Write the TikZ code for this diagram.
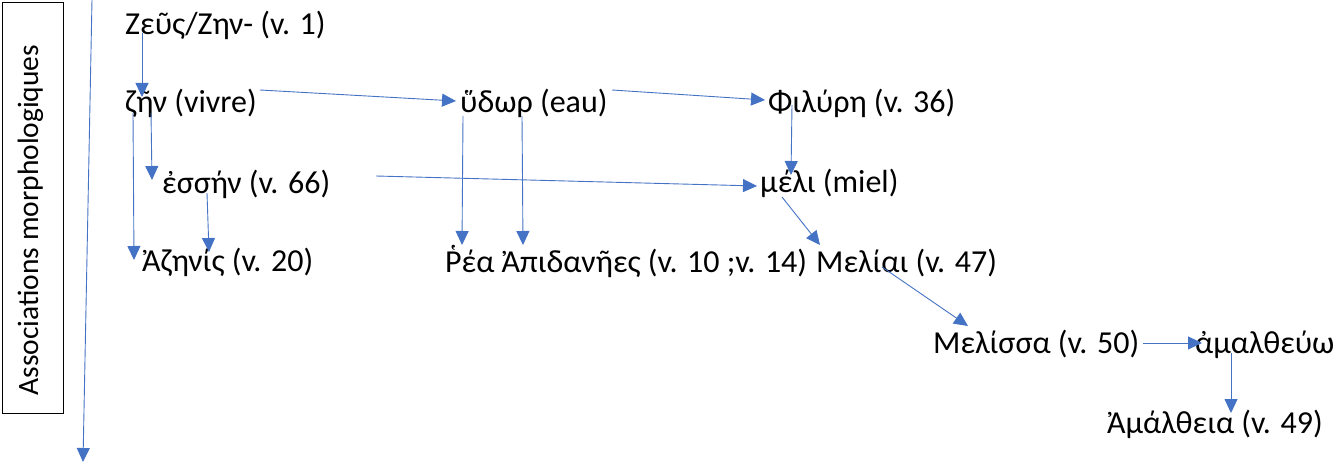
\documentclass[tikz,border=0pt]{standalone}
\usepackage{fontspec}
\setmainfont{Carlito}
\usetikzlibrary{arrows.meta}
\definecolor{ablue}{HTML}{4472C4}
\tikzset{
  word/.style={anchor=base west, inner sep=0pt, font=\fontsize{32}{36}\selectfont},
  arr/.style={draw=ablue, line width=0.9pt, -{Triangle[length=14pt,width=13pt]}},
  framebox/.style={draw=black, line width=1pt, inner sep=0pt}
}
\begin{document}
\begin{tikzpicture}[x=1pt,y=-1pt]
\useasboundingbox (0,0) rectangle (1336,462);
% side box
\node[framebox, minimum width=61pt, minimum height=410pt] (box) at (32.5,208) {};
\node[anchor=base, inner sep=0pt, rotate=90, font=\fontsize{29.5}{33}\selectfont] (boxlabel) at (38,220) {Associations morphologiques};
\coordinate (axtop) at (92,0);
\coordinate (axbot) at (83,462);
\draw[arr] (axtop) -- (axbot);
% words
\node[word] (zeus) at (125,35) {Ζεῦς/Ζην- (v. 1)};
\node[word] (zen) at (125,113) {ζῆν (vivre)};
\node[word] (hydor) at (460,113) {ὕδωρ (eau)};
\node[word] (philyre) at (768,113) {Φιλύρη (v. 36)};
\node[word] (essen) at (162,194) {ἐσσήν (v. 66)};
\node[word] (meli) at (760,193) {μέλι (miel)};
\node[word] (azenis) at (142,272) {Ἀζηνίς (v. 20)};
\node[word] (rhea) at (445,273) {Ῥέα Ἀπιδανῆες (v. 10 ;v. 14)};
\node[word] (meliai) at (816,273) {Μελίαι (v. 47)};
\node[word] (melissa) at (933,353) {Μελίσσα (v. 50)};
\node[word] (amaltheuo) at (1195,353) {ἀμαλθεύω};
\node[word] (amaltheia) at (1107,433) {Ἀμάλθεια (v. 49)};
% connectors
\draw[arr] ([shift={(17,-2)}]zeus.base west) -- ([shift={(17,-16)}]zen.base west);
\draw[arr] ([shift={(135,-23)}]zen.base west) -- ([shift={(-4,-12)}]hydor.base west);
\draw[arr] ([shift={(26,0)}]zen.base west) -- ([shift={(-10,-14)}]essen.base west);
\draw[arr] ([shift={(8,0)}]zen.base west) -- ([shift={(-8,-12)}]azenis.base west);
\draw[arr] ([shift={(45,-1)}]essen.base west) -- ([shift={(67,-20)}]azenis.base west);
\draw[arr] ([shift={(214,-18)}]essen.base west) -- ([shift={(-3,-7)}]meli.base west);
\draw[arr] ([shift={(152,-23)}]hydor.base west) -- ([shift={(-3,-13)}]philyre.base west);
\draw[arr] ([shift={(3,3)}]hydor.base west) -- ([shift={(17,-28)}]rhea.base west);
\draw[arr] ([shift={(62,3)}]hydor.base west) -- ([shift={(78,-28)}]rhea.base west);
\draw[arr] ([shift={(24,-8)}]philyre.base west) -- ([shift={(31,-18)}]meli.base west);
\draw[arr] ([shift={(22,4)}]meli.base west) -- ([shift={(4,-28)}]meliai.base west);
\draw[arr] ([shift={(66,-6)}]meliai.base west) -- ([shift={(35,-27)}]melissa.base west);
\draw[arr] ([shift={(210,-10)}]melissa.base west) -- ([shift={(7,-10)}]amaltheuo.base west);
\draw[arr] ([shift={(36,0)}]amaltheuo.base west) -- ([shift={(124,-20)}]amaltheia.base west);
\end{tikzpicture}
\end{document}
